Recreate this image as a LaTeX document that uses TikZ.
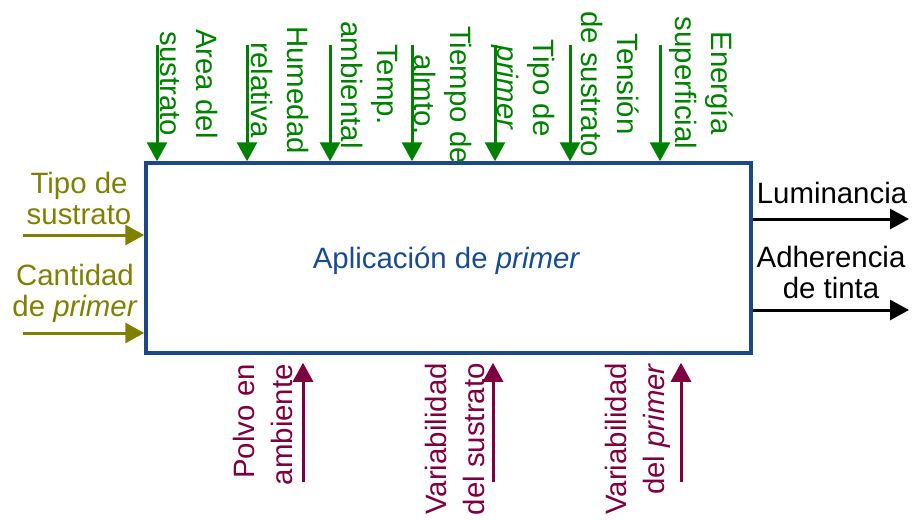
\documentclass[tikz,border=0pt]{standalone}
\usepackage{fontspec}
\setmainfont{Liberation Sans}
\usetikzlibrary{arrows.meta}
\definecolor{boxblue}{RGB}{28,72,135}
\definecolor{txtblue}{RGB}{25,75,145}
\definecolor{ingreen}{RGB}{0,128,0}
\definecolor{inolive}{RGB}{128,128,0}
\definecolor{inmaroon}{RGB}{125,0,65}
\begin{document}
\begin{tikzpicture}[x=1pt,y=-1pt,
  arr/.style={line width=3pt,-{Triangle[width=20pt,length=19pt]}},
  hlbl/.style={inner sep=0pt,align=center,font=\fontsize{29.4}{31}\selectfont},
  toplbl/.style={inner sep=0pt,align=center,rotate=-90,text=ingreen,font=\fontsize{29.4}{36}\selectfont},
  botlbl/.style={inner sep=0pt,align=right,rotate=90,anchor=east,text=inmaroon,font=\fontsize{29.4}{38}\selectfont}
]
\useasboundingbox (0,0) rectangle (912,519);

% main box
\node[draw=boxblue,line width=3.5pt,minimum width=605pt,minimum height=190pt,inner sep=0pt] (box) at (448.5,258) {};
\node[anchor=base,text=txtblue,inner sep=0pt,font=\fontsize{29.4}{31}\selectfont] (title) at (446.5,268) {Aplicación de \textit{primer}};

% top inputs
\foreach \n/\x in {1/157,2/247,3/330,4/412,5/495,6/570,7/660}{
  \coordinate (t\n) at (\x,45);
  \draw[arr,ingreen] (t\n) -- (t\n |- box.north);
}
\node[toplbl] (tl1) at (189,84) {Area del\\sustrato};
\node[toplbl] (tl2) at (280,90) {Humedad\\relativa};
\node[toplbl] (tl3) at (369,85) {Temp.\\ambiental};
\node[toplbl] (tl4) at (443,95) {Tiempo de\\almto.};
\node[toplbl] (tl5) at (523,88) {Tipo de\\\textit{primer}};
\node[toplbl] (tl6) at (610,84) {Tensión\\de sustrato};
\node[toplbl] (tl7) at (701,83) {Energía\\superficial};

% left inputs
\coordinate (l1) at (23,235);
\coordinate (l2) at (23,333);
\draw[arr,inolive] (l1) -- (l1 -| box.west);
\draw[arr,inolive] (l2) -- (l2 -| box.west);
\node[hlbl,text=inolive] (ll1) at (79,198) {Tipo de\\sustrato};
\node[hlbl,text=inolive] (ll2) at (75,293) {Cantidad\\de \textit{primer}};

% outputs
\coordinate (r1) at (909,219);
\coordinate (r2) at (909,310);
\draw[arr,black] (r1 -| box.east) -- (r1);
\draw[arr,black] (r2 -| box.east) -- (r2);
\node[hlbl,anchor=base] (rl1) at (832,203) {Luminancia};
\node[hlbl] (rl2) at (831,272) {Adherencia\\de tinta};

% bottom noise
\foreach \n/\x in {1/303,2/493,3/681}{
  \coordinate (b\n) at (\x,482);
  \draw[arr,inmaroon] (b\n) -- ([yshift=-8pt]b\n |- box.south);
}
\node[botlbl] (bl1) at (263,364) {Polvo en\\ambiente};
\node[botlbl] (bl2) at (455,363) {Variabilidad\\del sustrato};
\node[botlbl] (bl3) at (638,363) {Variabilidad\\del \textit{primer}};
\end{tikzpicture}
\end{document}
